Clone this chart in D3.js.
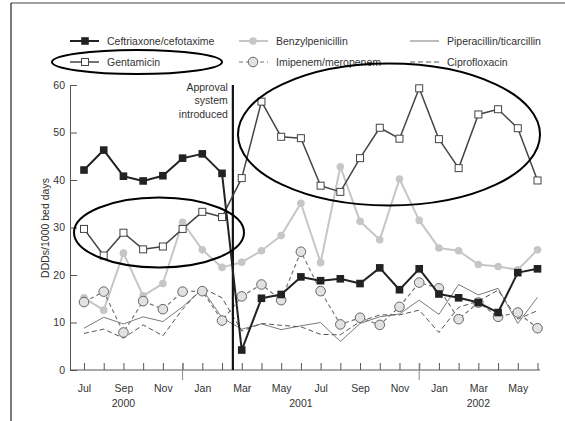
<!DOCTYPE html>
<html>
<head>
<meta charset="utf-8">
<script src="https://cdn.jsdelivr.net/npm/d3@7"></script>
<style>
  html, body { margin: 0; padding: 0; background: #fff; }
  svg { display: block; font-family: "Liberation Sans", Arial, Helvetica, sans-serif; }
</style>
</head>
<body>
<svg id="chart" width="565" height="421"></svg>
<script>
const months = ["Jul","Aug","Sep","Oct","Nov","Dec","Jan","Feb","Mar","Apr","May","Jun",
                "Jul","Aug","Sep","Oct","Nov","Dec","Jan","Feb","Mar","Apr","May","Jun"];
const years = ["2000","2001","2002"];
const yearLabelMonthIndex = [2, 11, 20];
const yearBoundaryIndex = [5, 17];
const approvalIndex = 7.55;
const approvalText = ["Approval", "system", "introduced"];
const yTicks = [0, 10, 20, 30, 40, 50, 60];

const ceftriaxone = [42.1,46.3,40.8,39.8,40.9,44.6,45.5,41.4,4.2,15.1,15.9,19.6,18.8,19.2,18.2,21.5,16.9,21.3,16.0,15.2,14.2,12.1,20.5,21.3];
const gentamicin  = [29.7,24.1,28.9,25.4,26.0,29.7,33.3,32.2,40.4,56.5,49.1,48.8,38.8,37.5,44.6,51.0,48.7,59.3,48.6,42.5,53.8,54.9,50.9,39.9];
const benzylpenicillin = [15.2,12.6,24.6,15.6,18.2,31.1,25.3,21.6,22.7,25.1,28.3,35.1,22.6,42.8,31.3,27.4,40.2,31.5,25.7,25.1,22.2,21.8,21.1,25.3];
const imipenem    = [14.3,16.5,7.9,14.5,12.8,16.5,16.6,10.4,15.5,18.0,14.7,24.9,16.6,9.6,11.0,9.5,13.3,18.4,17.2,10.7,14.2,11.2,12.1,8.8];
const piperacillin = [8.8,11.1,9.7,11.2,10.2,13.3,17.0,11.0,8.6,9.7,8.5,9.3,10.0,6.0,9.8,11.2,11.8,14.7,11.7,18.0,15.8,17.2,9.8,15.3];
const ciprofloxacin = [7.7,8.6,6.7,9.5,7.2,12.8,17.3,15.2,8.2,9.8,9.4,9.1,7.5,7.4,10.2,11.6,11.6,12.6,7.9,13.2,14.5,16.8,10.7,12.5];

const legendNames = ["Ceftriaxone/cefotaxime","Benzylpenicillin","Piperacillin/ticarcillin",
                     "Gentamicin","Imipenem/meropenem","Ciprofloxacin"];

const svg = d3.select("#chart");
const x = d3.scaleLinear().domain([0, months.length - 1]).range([84, 537.5]);
const y = d3.scaleLinear().domain([0, 60]).range([370, 85]);
const axisColor = "#555";

// frame
svg.append("line").attr("x1", 11).attr("x2", 565).attr("y1", 3).attr("y2", 3).attr("stroke", "#444").attr("stroke-width", 1.2);
svg.append("line").attr("x1", 11).attr("x2", 11).attr("y1", 3).attr("y2", 421).attr("stroke", "#222").attr("stroke-width", 1.2);

// y axis
const yAxis = d3.axisLeft(y).tickValues(yTicks).tickSizeInner(-7).tickSizeOuter(0).tickPadding(5);
const gy = svg.append("g").attr("transform", "translate(70,0)").call(yAxis);
gy.selectAll("path, line").attr("stroke", axisColor);
gy.selectAll("text").attr("font-size", "10.5px").attr("fill", "#333").attr("font-family", "Liberation Sans, Arial, sans-serif");

// x axis
svg.append("line").attr("x1", 70).attr("x2", 540).attr("y1", 370).attr("y2", 370).attr("stroke", axisColor);
const xAxis = d3.axisBottom(x).tickValues(d3.range(months.length))
  .tickFormat(i => i % 2 === 0 ? months[i] : "").tickSizeInner(-7).tickSizeOuter(0).tickPadding(15);
const gx = svg.append("g").attr("transform", "translate(0,370)").call(xAxis);
gx.select(".domain").remove();
gx.selectAll("line").attr("stroke", axisColor);
gx.selectAll("text").attr("font-size", "10.5px").attr("fill", "#333").attr("font-family", "Liberation Sans, Arial, sans-serif");

svg.selectAll(".yearTick").data(yearBoundaryIndex).join("line")
  .attr("x1", d => x(d)).attr("x2", d => x(d)).attr("y1", 363).attr("y2", 380)
  .attr("stroke", "#888").attr("stroke-width", 1);
svg.selectAll(".yearLabel").data(years).join("text")
  .attr("x", (d, i) => x(yearLabelMonthIndex[i])).attr("y", 407)
  .attr("text-anchor", "middle").attr("font-size", "10.5px").attr("fill", "#333").text(d => d);

// y title
svg.append("text").attr("transform", "translate(49,228) rotate(-90)")
  .attr("text-anchor", "middle").attr("font-size", "10.5px").attr("fill", "#333")
  .text("DDDs/1000 bed days");

// series
const line = d3.line().x((d, i) => x(i)).y(d => y(d));
function drawLine(data, stroke, width, dash) {
  svg.append("path").datum(data).attr("d", line).attr("fill", "none")
    .attr("stroke", stroke).attr("stroke-width", width)
    .attr("stroke-dasharray", dash || null).attr("stroke-linejoin", "round");
}
drawLine(piperacillin, "#7a7a7a", 1);
drawLine(ciprofloxacin, "#555", 1, "5,3");
drawLine(benzylpenicillin, "#c6c6c6", 2);
drawLine(imipenem, "#777", 1.2, "4,3");

svg.selectAll(".benz").data(benzylpenicillin).join("circle")
  .attr("cx", (d, i) => x(i)).attr("cy", d => y(d)).attr("r", 3.8).attr("fill", "#c6c6c6");
svg.selectAll(".imi").data(imipenem).join("circle")
  .attr("cx", (d, i) => x(i)).attr("cy", d => y(d)).attr("r", 4.8)
  .attr("fill", "#e2e2e2").attr("stroke", "#666").attr("stroke-width", 1);

// approval line
svg.append("line").attr("x1", x(approvalIndex)).attr("x2", x(approvalIndex))
  .attr("y1", 85).attr("y2", 370).attr("stroke", "#111").attr("stroke-width", 2.2);
svg.selectAll(".appr").data(approvalText).join("text")
  .attr("x", x(approvalIndex) - 5).attr("y", (d, i) => 91 + i * 13.4)
  .attr("text-anchor", "end").attr("font-size", "10.5px").attr("fill", "#333").text(d => d);

drawLine(gentamicin, "#444", 1.5);
svg.selectAll(".gen").data(gentamicin).join("rect")
  .attr("x", (d, i) => x(i) - 3.5).attr("y", d => y(d) - 3.5).attr("width", 7).attr("height", 7)
  .attr("fill", "#fff").attr("stroke", "#444").attr("stroke-width", 1);

drawLine(ceftriaxone, "#222", 2);
svg.selectAll(".cef").data(ceftriaxone).join("rect")
  .attr("x", (d, i) => x(i) - 3.8).attr("y", d => y(d) - 3.8).attr("width", 7.6).attr("height", 7.6)
  .attr("fill", "#222");

// legend
const colX = [70, 239, 410];
const rowY = [41, 62];
const lg = svg.append("g");
function legLine(cx, cy, stroke, w, dash) {
  lg.append("line").attr("x1", cx).attr("x2", cx + 29).attr("y1", cy).attr("y2", cy)
    .attr("stroke", stroke).attr("stroke-width", w).attr("stroke-dasharray", dash || null);
}
legLine(colX[0], rowY[0], "#222", 2);
lg.append("rect").attr("x", colX[0] + 15 - 3.8).attr("y", rowY[0] - 3.8).attr("width", 7.6).attr("height", 7.6).attr("fill", "#222");
legLine(colX[1], rowY[0], "#c6c6c6", 2);
lg.append("circle").attr("cx", colX[1] + 14).attr("cy", rowY[0]).attr("r", 3.8).attr("fill", "#c6c6c6");
legLine(colX[2], rowY[0], "#7a7a7a", 1);
legLine(colX[0], rowY[1], "#444", 1.5);
lg.append("rect").attr("x", colX[0] + 15 - 3.5).attr("y", rowY[1] - 3.5).attr("width", 7).attr("height", 7).attr("fill", "#fff").attr("stroke", "#444");
legLine(colX[1], rowY[1], "#777", 1.2, "4,3");
lg.append("circle").attr("cx", colX[1] + 14).attr("cy", rowY[1]).attr("r", 4.8).attr("fill", "#e2e2e2").attr("stroke", "#666");
legLine(colX[2], rowY[1], "#555", 1, "5,3");
lg.selectAll("text").data(legendNames).join("text")
  .attr("x", (d, i) => colX[i % 3] + 37).attr("y", (d, i) => rowY[Math.floor(i / 3)] + 3.8)
  .attr("font-size", "10.5px").attr("fill", "#333").text(d => d);

// annotation ellipses
const ell = [
  {cx: 137, cy: 62, rx: 85, ry: 12},
  {cx: 159, cy: 232.5, rx: 85, ry: 35},
  {cx: 389, cy: 134.5, rx: 151, ry: 71}
];
svg.selectAll(".ell").data(ell).join("ellipse")
  .attr("cx", d => d.cx).attr("cy", d => d.cy).attr("rx", d => d.rx).attr("ry", d => d.ry)
  .attr("fill", "none").attr("stroke", "#000").attr("stroke-width", 2);
</script>
</body>
</html>
